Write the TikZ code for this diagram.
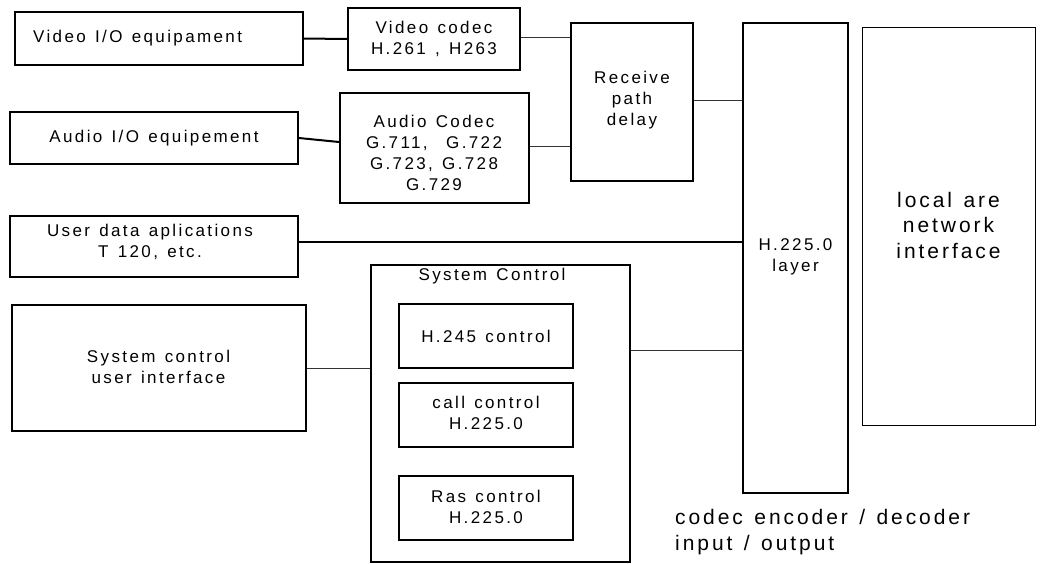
\documentclass[tikz,border=0pt]{standalone}
\usepackage{fontspec}
\setmainfont{Liberation Sans}[LetterSpace=14, WordSpace=1.3]
\tikzset{
  box/.style={draw, line width=1.8pt, inner sep=0pt},
  thinbox/.style={draw, line width=1pt, inner sep=0pt},
  txt/.style={align=center, font=\fontsize{17}{21}\selectfont, inner sep=0pt},
  bigtxt/.style={align=center, font=\fontsize{21}{25.5}\selectfont, inner sep=0pt},
  light/.style={line width=1pt, draw=black!80},
  heavy/.style={line width=2pt},
}
\begin{document}
\begin{tikzpicture}[x=1pt, y=-1pt]
\useasboundingbox (0,0) rectangle (1042,563);
% boxes
\node[box, minimum width=288pt, minimum height=53pt] (vio) at (159,38.5) {};
\node[txt, anchor=west] (viot) at (33,38.5) {Video I/O equipament};
\node[box, txt, minimum width=172pt, minimum height=62pt] (vcod) at (434,39) {Video codec\\H.261 , H263};
\node[box, txt, minimum width=288pt, minimum height=52pt] (aio) at (154,138) {Audio I/O equipement};
\node[box, minimum width=189pt, minimum height=110pt] (acod) at (434.5,148) {};
\node[txt] (acodt) at (434,153) {Audio Codec\\G.711,~~G.722\\G.723, G.728\\G.729};
\node[box, minimum width=122pt, minimum height=158pt] (rpd) at (632,102) {};
\node[txt] (rpdt) at (632,100) {Receive\\path\\delay};
\node[box, line width=2pt, minimum width=105pt, minimum height=470pt] (h225) at (795.5,258) {};
\node[txt] (h225t) at (795.5,257) {H.225.0\\layer};
\node[thinbox, minimum width=173pt, minimum height=398pt] (lan) at (948.5,226) {};
\node[bigtxt] (lant) at (948.5,225) {local are\\network\\interface};
\node[box, minimum width=288pt, minimum height=61pt] (ud) at (154,246.5) {};
\node[txt] (udt) at (150,242) {User data aplications\\T 120, etc.};
\node[box, line width=1.6pt, minimum width=259pt, minimum height=297pt] (sc) at (500.5,413.5) {};
\node[txt] (sct) at (492,276) {System Control};
\node[box, txt, minimum width=174pt, minimum height=64pt] (h245) at (486,336) {H.245 control};
\node[box, minimum width=174pt, minimum height=64pt] (cc) at (486,415) {};
\node[txt] (cct) at (486,413) {call control\\H.225.0};
\node[box, minimum width=174pt, minimum height=64pt] (ras) at (486,508) {};
\node[txt] (rast) at (486,507) {Ras control\\H.225.0};
\node[box, minimum width=294pt, minimum height=126pt] (ui) at (159,368) {};
\node[txt] (uit) at (158.5,367) {System control\\user interface};
\node[bigtxt, align=left, anchor=north west, font=\fontsize{21}{26}\selectfont] (cap) at (675,509) {codec encoder / decoder\\input / output};
% connectors
\coordinate (a1) at ([yshift=6pt]acod.west);
\coordinate (a2) at ([yshift=4.5pt]ud.east);
\coordinate (a3) at ([yshift=2pt]vcod.east);
\coordinate (a4) at ([yshift=2pt]acod.east);
\coordinate (a5) at ([yshift=2pt]rpd.east);
\coordinate (a6) at ([yshift=63.5pt]sc.east);
\draw[heavy] (vio.east) -- (vcod.west);
\draw[heavy] (aio.east) -- (a1);
\draw[heavy] (a2) -- (a2 -| h225.west);
\draw[light] (a3) -- (a3 -| rpd.west);
\draw[light] (a4) -- (a4 -| rpd.west);
\draw[light] (a5) -- (a5 -| h225.west);
\draw[light] (ui.east) -- (ui.east -| sc.west);
\draw[light] (a6) -- (a6 -| h225.west);
\end{tikzpicture}
\end{document}
